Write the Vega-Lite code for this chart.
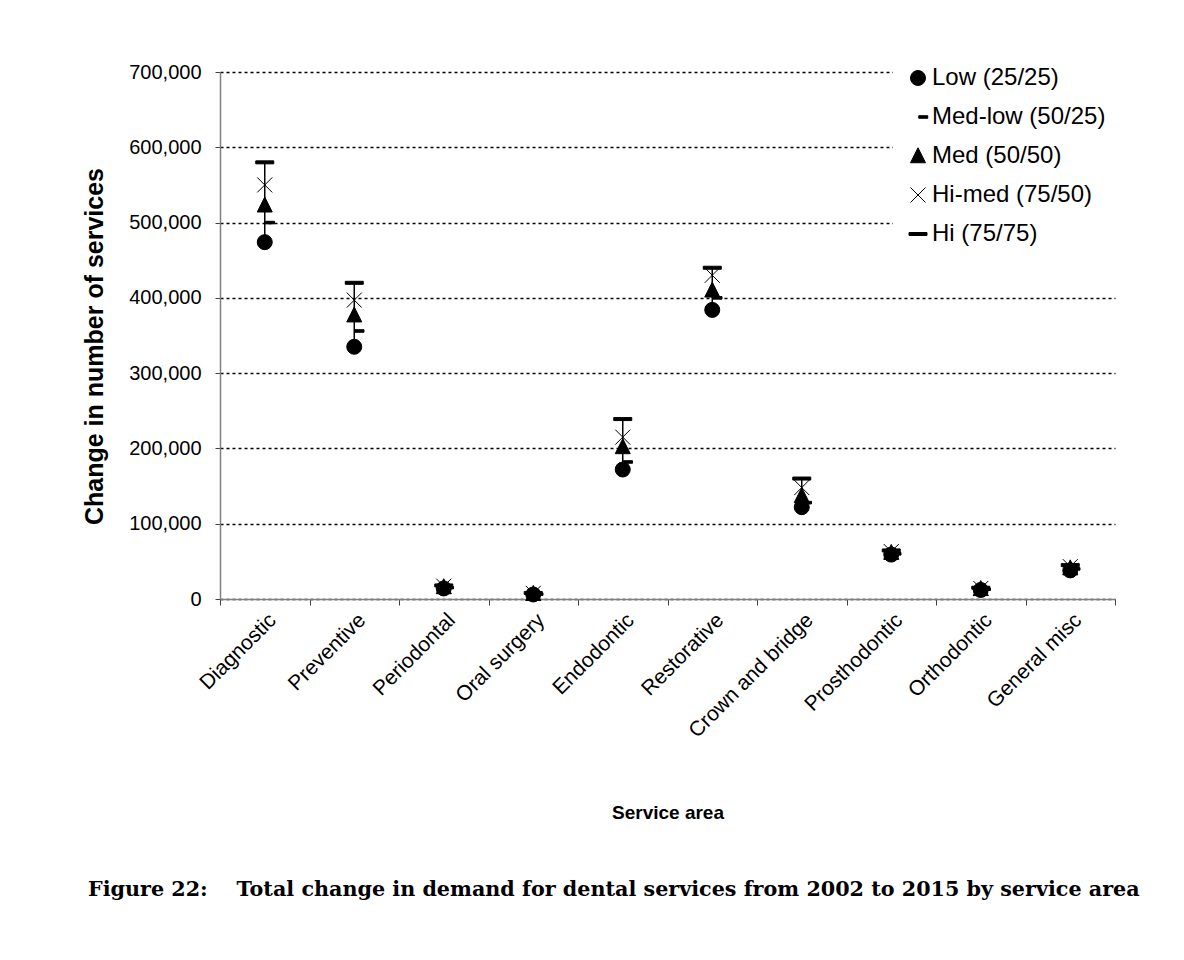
{
  "$schema": "https://vega.github.io/schema/vega-lite/v6.json",
  "width": 895,
  "height": 527,
  "autosize": "none",
  "padding": {"left": 220, "top": 72, "right": 69, "bottom": 361},
  "background": "white",
  "title": {
    "text": "Figure 22:\u00a0\u00a0\u00a0\u00a0Total change in demand for dental services from 2002 to 2015 by service area",
    "orient": "bottom",
    "anchor": "start",
    "frame": "group",
    "dx": -132,
    "offset": 58,
    "font": "DejaVu Serif",
    "fontSize": 20.7,
    "fontWeight": "bold",
    "color": "black"
  },
  "config": {
    "view": {"stroke": null},
    "axis": {
      "labelFont": "Liberation Sans",
      "labelFontSize": 21,
      "labelColor": "black",
      "titleFont": "Liberation Sans",
      "titleFontSize": 21,
      "titleFontWeight": "bold",
      "titleColor": "black",
      "domainColor": "#808080",
      "domainWidth": 1.5,
      "tickColor": "#404040",
      "tickWidth": 1
    }
  },
  "data": {
    "values": [
      {"area": "Diagnostic", "scenario": "Low (25/25)", "value": 474000},
      {"area": "Diagnostic", "scenario": "Med-low (50/25)", "value": 500000},
      {"area": "Diagnostic", "scenario": "Med (50/50)", "value": 523000},
      {"area": "Diagnostic", "scenario": "Hi-med (75/50)", "value": 550000},
      {"area": "Diagnostic", "scenario": "Hi (75/75)", "value": 580000},
      {"area": "Preventive", "scenario": "Low (25/25)", "value": 335000},
      {"area": "Preventive", "scenario": "Med-low (50/25)", "value": 356000},
      {"area": "Preventive", "scenario": "Med (50/50)", "value": 377000},
      {"area": "Preventive", "scenario": "Hi-med (75/50)", "value": 397000},
      {"area": "Preventive", "scenario": "Hi (75/75)", "value": 420000},
      {"area": "Periodontal", "scenario": "Low (25/25)", "value": 14000},
      {"area": "Periodontal", "scenario": "Med-low (50/25)", "value": 15000},
      {"area": "Periodontal", "scenario": "Med (50/50)", "value": 16000},
      {"area": "Periodontal", "scenario": "Hi-med (75/50)", "value": 17000},
      {"area": "Periodontal", "scenario": "Hi (75/75)", "value": 18000},
      {"area": "Oral surgery", "scenario": "Low (25/25)", "value": 6000},
      {"area": "Oral surgery", "scenario": "Med-low (50/25)", "value": 6500},
      {"area": "Oral surgery", "scenario": "Med (50/50)", "value": 7000},
      {"area": "Oral surgery", "scenario": "Hi-med (75/50)", "value": 7500},
      {"area": "Oral surgery", "scenario": "Hi (75/75)", "value": 8000},
      {"area": "Endodontic", "scenario": "Low (25/25)", "value": 172000},
      {"area": "Endodontic", "scenario": "Med-low (50/25)", "value": 182000},
      {"area": "Endodontic", "scenario": "Med (50/50)", "value": 202000},
      {"area": "Endodontic", "scenario": "Hi-med (75/50)", "value": 215000},
      {"area": "Endodontic", "scenario": "Hi (75/75)", "value": 239000},
      {"area": "Restorative", "scenario": "Low (25/25)", "value": 384000},
      {"area": "Restorative", "scenario": "Med-low (50/25)", "value": 400000},
      {"area": "Restorative", "scenario": "Med (50/50)", "value": 410000},
      {"area": "Restorative", "scenario": "Hi-med (75/50)", "value": 430000},
      {"area": "Restorative", "scenario": "Hi (75/75)", "value": 440000},
      {"area": "Crown and bridge", "scenario": "Low (25/25)", "value": 122000},
      {"area": "Crown and bridge", "scenario": "Med-low (50/25)", "value": 128000},
      {"area": "Crown and bridge", "scenario": "Med (50/50)", "value": 137000},
      {"area": "Crown and bridge", "scenario": "Hi-med (75/50)", "value": 148000},
      {"area": "Crown and bridge", "scenario": "Hi (75/75)", "value": 160000},
      {"area": "Prosthodontic", "scenario": "Low (25/25)", "value": 59000},
      {"area": "Prosthodontic", "scenario": "Med-low (50/25)", "value": 60000},
      {"area": "Prosthodontic", "scenario": "Med (50/50)", "value": 61500},
      {"area": "Prosthodontic", "scenario": "Hi-med (75/50)", "value": 63000},
      {"area": "Prosthodontic", "scenario": "Hi (75/75)", "value": 64500},
      {"area": "Orthodontic", "scenario": "Low (25/25)", "value": 12000},
      {"area": "Orthodontic", "scenario": "Med-low (50/25)", "value": 13000},
      {"area": "Orthodontic", "scenario": "Med (50/50)", "value": 13500},
      {"area": "Orthodontic", "scenario": "Hi-med (75/50)", "value": 14000},
      {"area": "Orthodontic", "scenario": "Hi (75/75)", "value": 15000},
      {"area": "General misc", "scenario": "Low (25/25)", "value": 38000},
      {"area": "General misc", "scenario": "Med-low (50/25)", "value": 40000},
      {"area": "General misc", "scenario": "Med (50/50)", "value": 41000},
      {"area": "General misc", "scenario": "Hi-med (75/50)", "value": 43000},
      {"area": "General misc", "scenario": "Hi (75/75)", "value": 45000}
    ]
  },
  "encoding": {
    "x": {
      "field": "area",
      "type": "nominal",
      "sort": null,
      "scale": {"paddingInner": 0, "paddingOuter": 0},
      "axis": {
        "title": "Service area",
        "titleFontSize": 19,
        "titleY": 204,
        "labelAngle": -45,
        "labelPadding": 4,
        "labelDx": -10,
        "tickBand": "extent",
        "tickSize": 6
      }
    }
  },
  "layer": [
    {
      "mark": {"type": "rule", "color": "black", "strokeWidth": 1.5},
      "encoding": {
        "y": {
          "aggregate": "min",
          "field": "value",
          "type": "quantitative",
          "scale": {"domain": [0, 700000], "nice": false},
          "axis": {
            "title": "Change in number of services",
            "titleFontSize": 25,
            "titlePadding": 21,
            "titleY": 274,
            "values": [0, 100000, 200000, 300000, 400000, 500000, 600000, 700000],
            "format": ",.0f",
            "labelFontSize": 20,
            "grid": true,
            "gridColor": "black",
            "gridDash": [3, 3],
            "gridWidth": 1.3,
            "tickSize": 5,
            "labelPadding": 14
          }
        },
        "y2": {"aggregate": "max", "field": "value"}
      }
    },
    {
      "mark": {"type": "point", "size": 225, "strokeWidth": 1, "opacity": 1},
      "encoding": {
        "y": {
          "field": "value",
          "type": "quantitative",
          "scale": {"domain": [0, 700000], "nice": false},
          "axis": {
            "title": "Change in number of services",
            "titleFontSize": 25,
            "titlePadding": 21,
            "titleY": 274,
            "values": [0, 100000, 200000, 300000, 400000, 500000, 600000, 700000],
            "format": ",.0f",
            "labelFontSize": 20,
            "grid": true,
            "gridColor": "black",
            "gridDash": [3, 3],
            "gridWidth": 1.3,
            "tickSize": 5,
            "labelPadding": 14
          }
        },
        "shape": {
          "field": "scenario",
          "type": "nominal",
          "sort": null,
          "scale": {
            "domain": ["Low (25/25)", "Med-low (50/25)", "Med (50/50)", "Hi-med (75/50)", "Hi (75/75)"],
            "range": [
              "circle",
              "M0.1,-0.17L1.3,-0.17L1.3,0.17L0.1,0.17Z",
              "M0,-1.1L1,0.9L-1,0.9Z",
              "M-1,-1L1,1M-1,1L1,-1",
              "M-1.2,-0.2L1.2,-0.2L1.2,0.2L-1.2,0.2Z"
            ]
          },
          "legend": {
            "title": null,
            "orient": "none",
            "legendX": 673,
            "legendY": -19,
            "padding": 13,
            "fillColor": "white",
            "labelFont": "Liberation Sans",
            "labelFontSize": 24,
            "labelColor": "black",
            "labelOffset": 2,
            "labelLimit": 400,
            "rowPadding": 15,
            "symbolSize": 225,
            "symbolStrokeWidth": 1
          }
        },
        "fill": {
          "field": "scenario",
          "type": "nominal",
          "sort": null,
          "scale": {
            "domain": ["Low (25/25)", "Med-low (50/25)", "Med (50/50)", "Hi-med (75/50)", "Hi (75/75)"],
            "range": ["black", "black", "black", "transparent", "black"]
          },
          "legend": {
            "title": null,
            "orient": "none",
            "legendX": 673,
            "legendY": -19,
            "padding": 13,
            "fillColor": "white",
            "labelFont": "Liberation Sans",
            "labelFontSize": 24,
            "labelColor": "black",
            "labelOffset": 2,
            "labelLimit": 400,
            "rowPadding": 15,
            "symbolSize": 225,
            "symbolStrokeWidth": 1
          }
        },
        "stroke": {
          "field": "scenario",
          "type": "nominal",
          "sort": null,
          "scale": {
            "domain": ["Low (25/25)", "Med-low (50/25)", "Med (50/50)", "Hi-med (75/50)", "Hi (75/75)"],
            "range": ["black", "black", "black", "black", "black"]
          },
          "legend": {
            "title": null,
            "orient": "none",
            "legendX": 673,
            "legendY": -19,
            "padding": 13,
            "fillColor": "white",
            "labelFont": "Liberation Sans",
            "labelFontSize": 24,
            "labelColor": "black",
            "labelOffset": 2,
            "labelLimit": 400,
            "rowPadding": 15,
            "symbolSize": 225,
            "symbolStrokeWidth": 1
          }
        }
      }
    }
  ]
}
